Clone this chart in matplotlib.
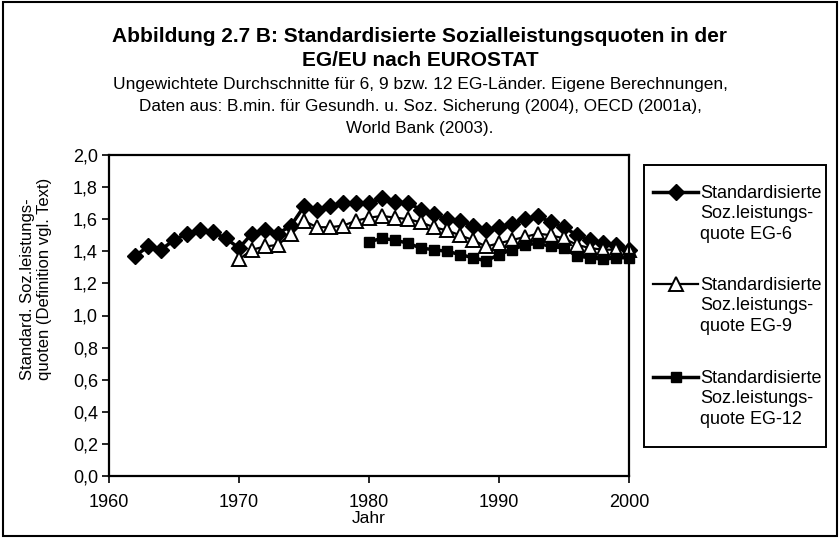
import matplotlib
matplotlib.use('Agg')
import matplotlib.pyplot as plt
from matplotlib.ticker import FuncFormatter
from matplotlib.patches import Rectangle
from matplotlib.lines import Line2D

plt.rcParams['font.family'] = ['Liberation Sans', 'DejaVu Sans']

years6 = list(range(1962, 2001))
eg6 = [1.37, 1.43, 1.41, 1.47, 1.51, 1.53, 1.52, 1.48, 1.42, 1.51,
       1.53, 1.51, 1.56, 1.68, 1.66, 1.68, 1.70, 1.70, 1.70, 1.73,
       1.71, 1.70, 1.66, 1.63, 1.60, 1.59, 1.56, 1.53, 1.55, 1.57,
       1.60, 1.62, 1.58, 1.55, 1.50, 1.47, 1.45, 1.44, 1.41]

years9 = list(range(1970, 2001))
eg9 = [1.35, 1.41, 1.43, 1.44, 1.51, 1.59, 1.55, 1.55, 1.56, 1.59,
       1.61, 1.62, 1.61, 1.60, 1.58, 1.55, 1.53, 1.50, 1.47, 1.43,
       1.45, 1.47, 1.49, 1.51, 1.50, 1.48, 1.44, 1.42, 1.41, 1.41,
       1.41]

years12 = list(range(1980, 2001))
eg12 = [1.46, 1.48, 1.47, 1.45, 1.42, 1.41, 1.40, 1.38, 1.36, 1.34,
        1.38, 1.41, 1.44, 1.45, 1.43, 1.42, 1.37, 1.36, 1.35, 1.36,
        1.36]

labels = ['Standardisierte\nSoz.leistungs-\nquote EG-6',
          'Standardisierte\nSoz.leistungs-\nquote EG-9',
          'Standardisierte\nSoz.leistungs-\nquote EG-12']

W, H = 840, 538
def fx(x):
    return x / W
def fy(y):
    return 1 - y / H

fig = plt.figure(figsize=(8.4, 5.38), dpi=100)
ax = fig.add_axes([fx(109), fy(476), 520 / W, 321 / H])

style6 = dict(color='black', lw=2.5, marker='D', ms=8.5, mfc='black', mec='black')
style9 = dict(color='black', lw=1.6, marker='^', ms=9.5, mfc='white', mec='black', mew=1.4)
style12 = dict(color='black', lw=2.5, marker='s', ms=7, mfc='black', mec='black')

ax.plot(years6, eg6, clip_on=False, **style6)
ax.plot(years9, eg9, clip_on=False, **style9)
ax.plot(years12, eg12, clip_on=False, **style12)

ax.set_xlim(1960, 2000)
ax.set_ylim(0, 2.0)
ax.set_xticks([1960, 1970, 1980, 1990, 2000])
ax.set_yticks([0, 0.2, 0.4, 0.6, 0.8, 1.0, 1.2, 1.4, 1.6, 1.8, 2.0])
ax.yaxis.set_major_formatter(FuncFormatter(lambda v, p: ('%.1f' % v).replace('.', ',')))
ax.tick_params(direction='out', length=5, width=1.2, labelsize=13, pad=3)
ax.tick_params(axis='x', pad=8)
for s in ax.spines.values():
    s.set_linewidth(1.6)

ax.set_xlabel('Jahr', fontsize=12.5, labelpad=0)
fig.text(fx(36), fy(380), 'Standard. Soz.leistungs-\nquoten (Definition vgl. Text)',
         rotation=90, ha='center', va='bottom', multialignment='left', fontsize=12)

fig.text(0.5, fy(37), 'Abbildung 2.7 B: Standardisierte Sozialleistungsquoten in der',
         ha='center', va='center', fontsize=15, fontweight='bold')
fig.text(0.5, fy(61), 'EG/EU nach EUROSTAT',
         ha='center', va='center', fontsize=15, fontweight='bold')
fig.text(0.5, fy(85), 'Ungewichtete Durchschnitte für 6, 9 bzw. 12 EG-Länder. Eigene Berechnungen,',
         ha='center', va='center', fontsize=12.5)
fig.text(0.5, fy(107), 'Daten aus: B.min. für Gesundh. u. Soz. Sicherung (2004), OECD (2001a),',
         ha='center', va='center', fontsize=12.3)
fig.text(0.5, fy(129), 'World Bank (2003).',
         ha='center', va='center', fontsize=12.3)

# legend box drawn by hand so the marker sits on the first text line
fig.add_artist(Rectangle((fx(644), fy(447)), 182 / W, 282 / H, transform=fig.transFigure,
                         fill=False, edgecolor='black', lw=1.4))
first_lines = [192, 284, 377]
for lab, st, y0 in zip(labels, [style6, style9, style12], first_lines):
    fig.add_artist(Line2D([fx(653), fx(675.5), fx(698)], [fy(y0)] * 3,
                          transform=fig.transFigure, markevery=[1], **st))
    fig.text(fx(700), fy(y0 + 21.7), lab, ha='left', va='center',
             fontsize=13, linespacing=1.28)

fig.add_artist(Rectangle((0.003, 0.004), 0.994, 0.992, transform=fig.transFigure,
                         fill=False, edgecolor='black', lw=1.5))

fig.savefig('out.png', dpi=100)
